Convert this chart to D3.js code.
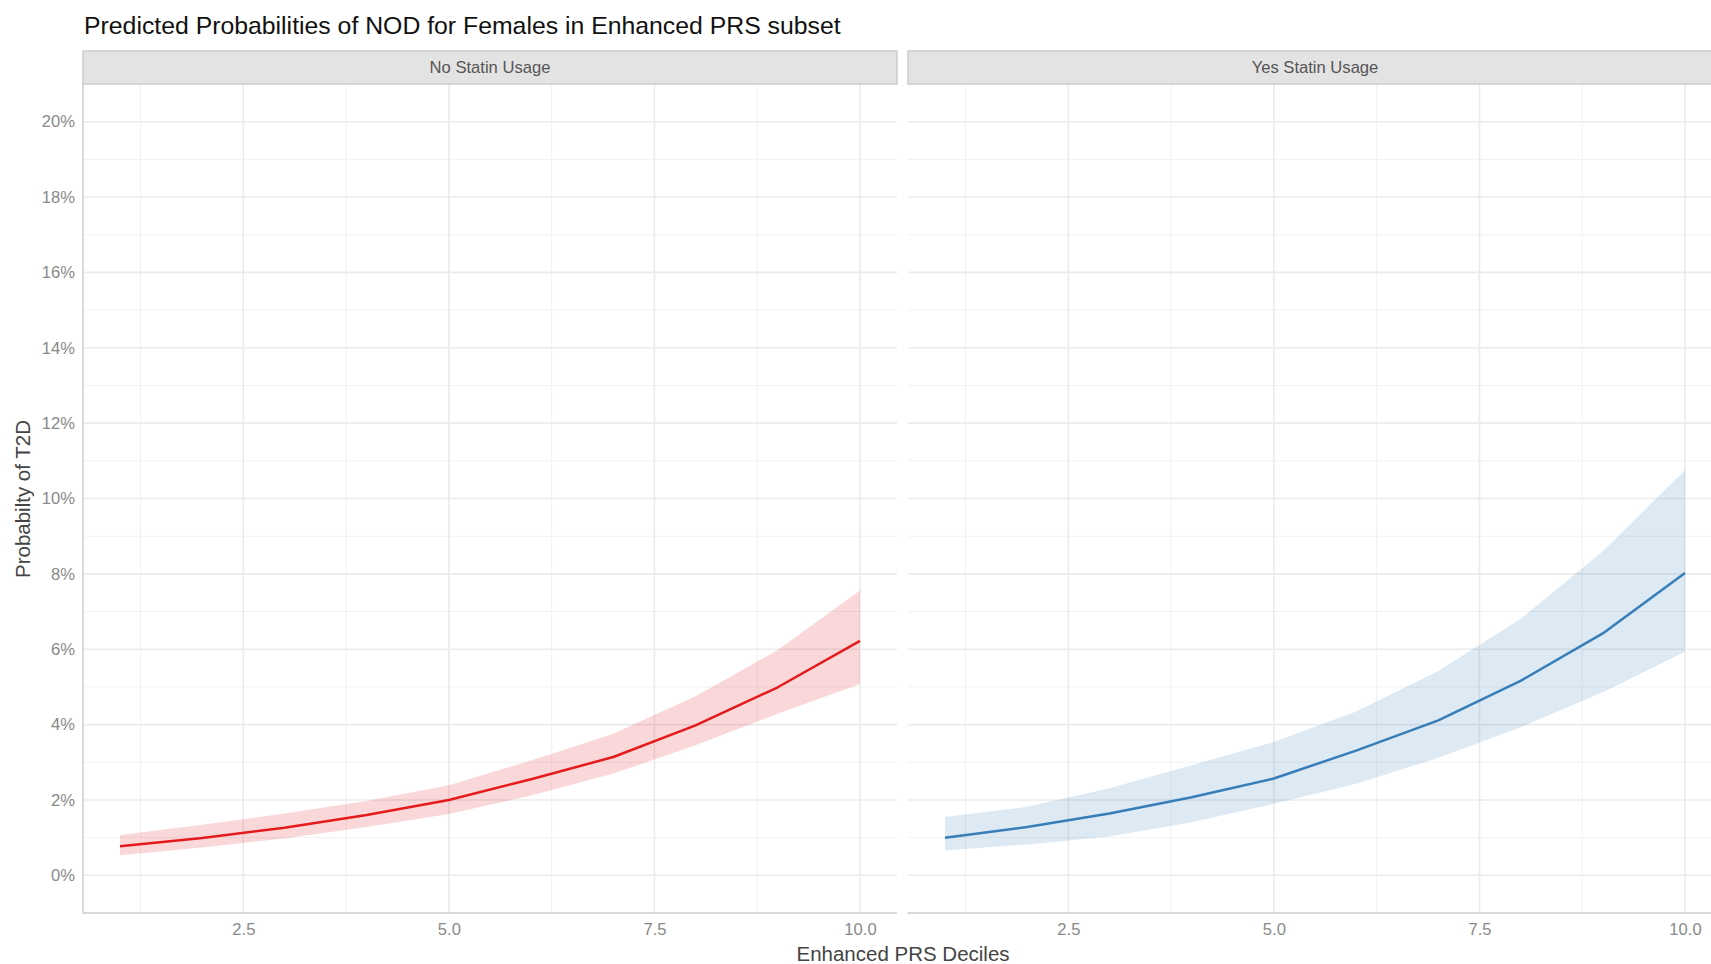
<!DOCTYPE html>
<html>
<head>
<meta charset="utf-8">
<script src="https://cdn.jsdelivr.net/npm/d3@7"></script>
<style>
  body { margin: 0; background: #fff; }
  svg { display: block; font-family: 'Liberation Sans', Arial, sans-serif; }
</style>
</head>
<body>
<svg id="chart" width="1711" height="964"></svg>
<script>
// deciles of the enhanced PRS
const deciles = [1, 2, 3, 4, 5, 6, 7, 8, 9, 10];
const panelNames = ['No Statin Usage', 'Yes Statin Usage'];

// predicted probability with 95% band (proportions)
const noStatinFit = [0.0077, 0.0099, 0.0126, 0.0160, 0.0200, 0.0255, 0.0314, 0.0398, 0.0499, 0.0622];
const noStatinLow = [0.0053, 0.0074, 0.0098, 0.0128, 0.0163, 0.0212, 0.0270, 0.0345, 0.0429, 0.0508];
const noStatinHigh = [0.0107, 0.0134, 0.0164, 0.0197, 0.0239, 0.0305, 0.0376, 0.0475, 0.0598, 0.0756];

const yesStatinFit = [0.0100, 0.0128, 0.0164, 0.0207, 0.0257, 0.0331, 0.0411, 0.0516, 0.0642, 0.0802];
const yesStatinLow = [0.0066, 0.0082, 0.0103, 0.0141, 0.0190, 0.0243, 0.0312, 0.0393, 0.0486, 0.0593];
const yesStatinHigh = [0.0155, 0.0182, 0.0231, 0.0292, 0.0354, 0.0435, 0.0542, 0.0680, 0.0860, 0.1075];

const xTicks = [2.5, 5, 7.5, 10];
const xMinor = [1.25, 3.75, 6.25, 8.75];
const yTicks = [0, 0.02, 0.04, 0.06, 0.08, 0.10, 0.12, 0.14, 0.16, 0.18, 0.20];
const yMinor = [-0.01, 0.01, 0.03, 0.05, 0.07, 0.09, 0.11, 0.13, 0.15, 0.17, 0.19, 0.21];

const panelColors = ['#E41A1C', '#377EB8'];

const svg = d3.select('#chart');

const stripTop = 51;
const panelTop = 84;
const panelBottom = 913;
const panelLefts = [83, 908];
const panelWidth = 814;

const y = d3.scaleLinear().domain([-0.01, 0.21]).range([panelBottom, panelTop]);

const panels = panelNames.map((name, i) => ({
  name,
  color: panelColors[i],
  left: panelLefts[i],
  rows: deciles.map((d, j) => ({
    d,
    fit: i === 0 ? noStatinFit[j] : yesStatinFit[j],
    low: i === 0 ? noStatinLow[j] : yesStatinLow[j],
    high: i === 0 ? noStatinHigh[j] : yesStatinHigh[j]
  }))
}));

// title
svg.append('text')
  .attr('x', 84)
  .attr('y', 34)
  .style('font-size', '24.8px')
  .style('fill', '#111')
  .text('Predicted Probabilities of NOD for Females in Enhanced PRS subset');

panels.forEach((p, i) => {
  const x = d3.scaleLinear().domain([0.55, 10.45]).range([p.left, p.left + panelWidth]);
  const g = svg.append('g').attr('class', 'panel');

  // minor grid
  g.selectAll('.ymin').data(yMinor).join('line')
    .attr('x1', p.left).attr('x2', p.left + panelWidth)
    .attr('y1', d => y(d)).attr('y2', d => y(d))
    .style('stroke', '#F1F1F1').style('stroke-width', 1);
  g.selectAll('.xmin').data(xMinor).join('line')
    .attr('x1', d => x(d)).attr('x2', d => x(d))
    .attr('y1', panelTop).attr('y2', panelBottom)
    .style('stroke', '#F1F1F1').style('stroke-width', 1);

  // major grid
  g.selectAll('.ymaj').data(yTicks).join('line')
    .attr('x1', p.left).attr('x2', p.left + panelWidth)
    .attr('y1', d => y(d)).attr('y2', d => y(d))
    .style('stroke', '#EBEBEB').style('stroke-width', 1.6);
  g.selectAll('.xmaj').data(xTicks).join('line')
    .attr('x1', d => x(d)).attr('x2', d => x(d))
    .attr('y1', panelTop).attr('y2', panelBottom)
    .style('stroke', '#EBEBEB').style('stroke-width', 1.6);

  // ribbon
  const area = d3.area()
    .x(d => x(d.d))
    .y0(d => y(d.low))
    .y1(d => y(d.high));
  g.append('path')
    .datum(p.rows)
    .attr('d', area)
    .style('fill', p.color)
    .style('fill-opacity', 0.17);

  // fitted line
  const line = d3.line()
    .x(d => x(d.d))
    .y(d => y(d.fit));
  g.append('path')
    .datum(p.rows)
    .attr('d', line)
    .style('fill', 'none')
    .style('stroke', p.color)
    .style('stroke-width', 2.5)
    .style('stroke-linejoin', 'round');

  // strip
  g.append('rect')
    .attr('x', p.left)
    .attr('y', stripTop)
    .attr('width', panelWidth)
    .attr('height', panelTop - stripTop)
    .style('fill', '#E3E3E3')
    .style('stroke', '#CDCDCD')
    .style('stroke-width', 1.5);
  g.append('text')
    .attr('x', p.left + panelWidth / 2)
    .attr('y', (stripTop + panelTop) / 2)
    .attr('dy', '0.35em')
    .style('text-anchor', 'middle')
    .style('font-size', '16.6px')
    .style('fill', '#555')
    .text(p.name);

  // x axis
  const xAxis = g.append('g')
    .attr('transform', `translate(0,${panelBottom})`)
    .call(d3.axisBottom(x).tickValues(xTicks).tickSize(0).tickPadding(10)
      .tickFormat(d3.format('.1f')));
  xAxis.select('.domain').remove();
  xAxis.selectAll('text')
    .style('font-size', '16.6px')
    .style('font-family', "'Liberation Sans', Arial, sans-serif")
    .style('fill', '#8a8a8a');

  g.append('line')
    .attr('x1', p.left - 0.5).attr('x2', p.left + panelWidth)
    .attr('y1', panelBottom).attr('y2', panelBottom)
    .style('stroke', '#CFCFCF').style('stroke-width', 1.5);

  if (i === 0) {
    const yAxis = g.append('g')
      .attr('transform', `translate(${p.left},0)`)
      .call(d3.axisLeft(y).tickValues(yTicks).tickSize(0).tickPadding(8)
        .tickFormat(d3.format('.0%')));
    yAxis.select('.domain').remove();
    yAxis.selectAll('text')
      .style('font-size', '16.6px')
      .style('font-family', "'Liberation Sans', Arial, sans-serif")
      .style('fill', '#8a8a8a');
    g.append('line')
      .attr('x1', p.left).attr('x2', p.left)
      .attr('y1', panelTop).attr('y2', panelBottom)
      .style('stroke', '#CFCFCF').style('stroke-width', 1.5);
  }
});

// axis titles
svg.append('text')
  .attr('x', 903)
  .attr('y', 961)
  .style('text-anchor', 'middle')
  .style('font-size', '20.5px')
  .style('fill', '#444')
  .text('Enhanced PRS Deciles');

svg.append('text')
  .attr('transform', 'translate(30,499) rotate(-90)')
  .style('text-anchor', 'middle')
  .style('font-size', '20.5px')
  .style('fill', '#444')
  .text('Probabilty of T2D');
</script>
</body>
</html>
